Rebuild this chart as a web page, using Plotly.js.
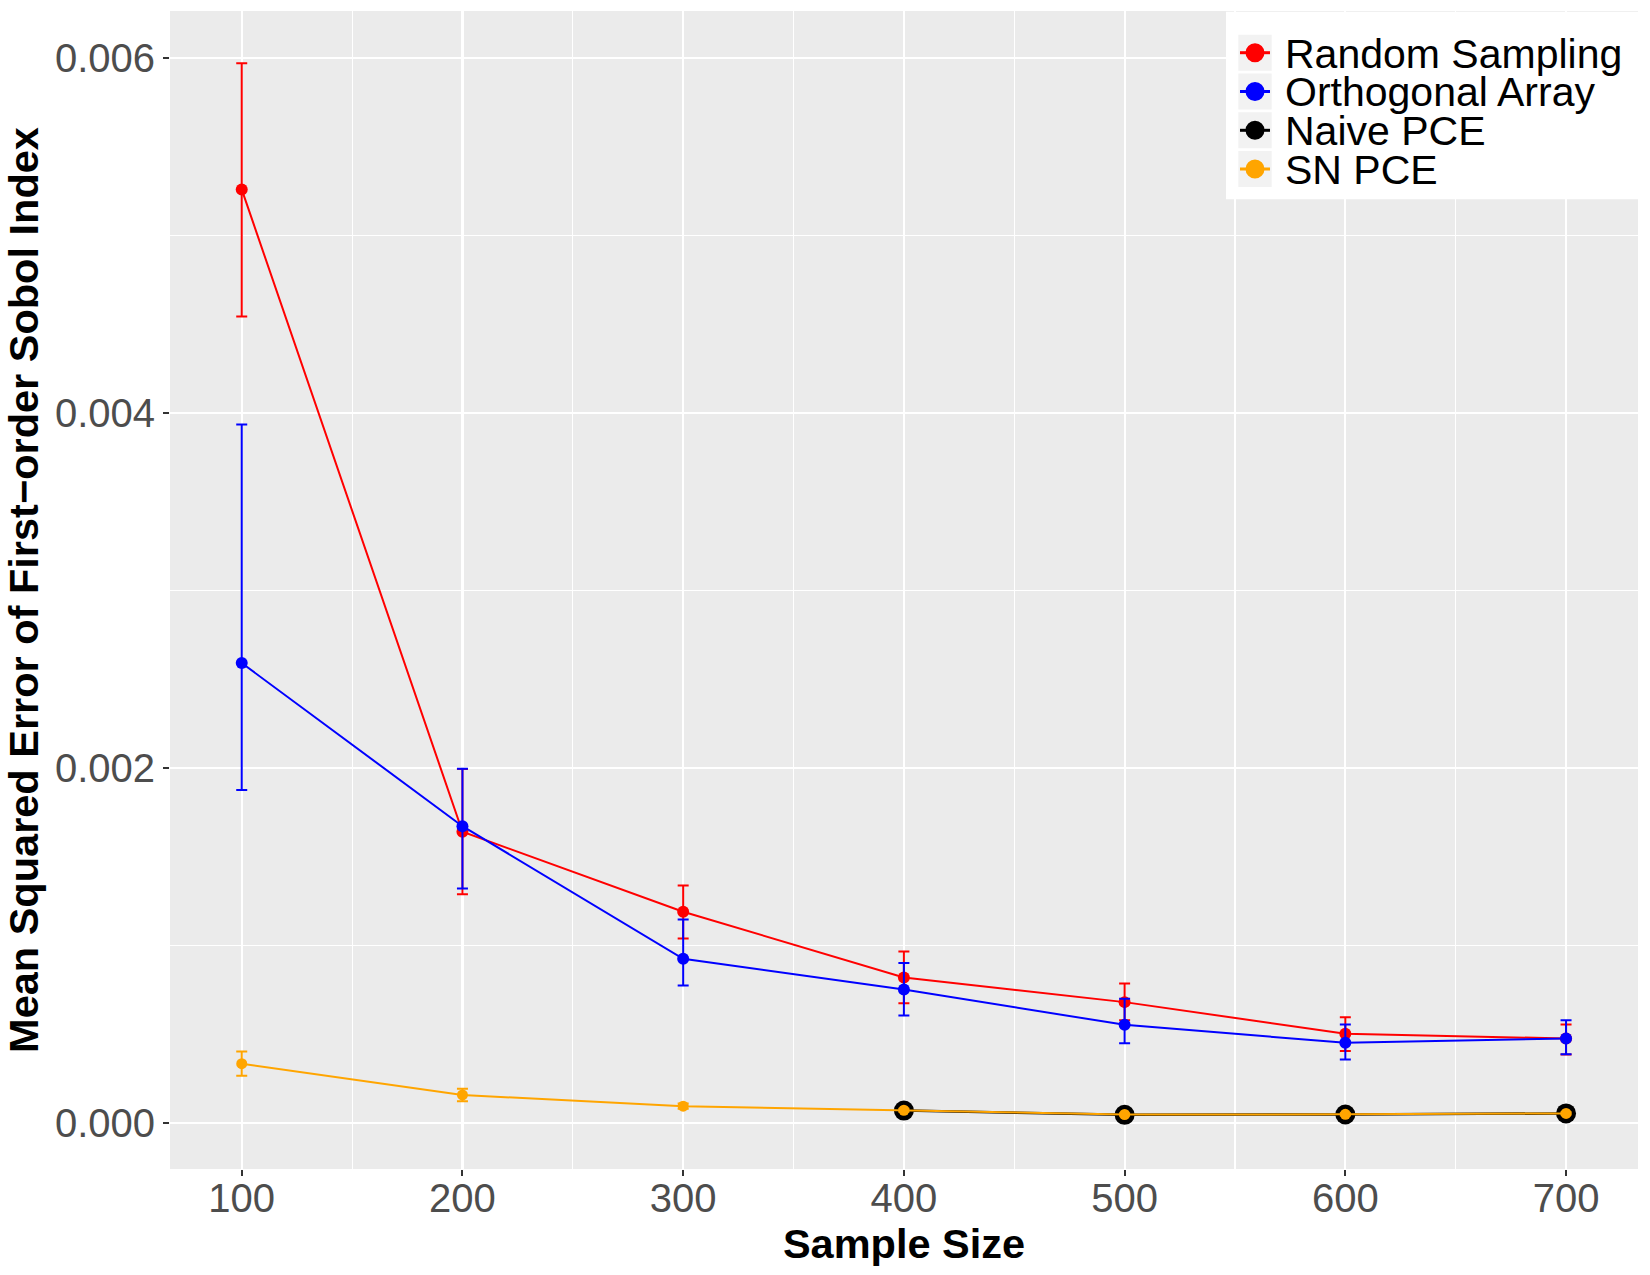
<!DOCTYPE html>
<html>
<head>
<meta charset="utf-8">
<script src="https://cdn.plot.ly/plotly-3.0.1.min.js"></script>
<style>
  html, body { margin: 0; padding: 0; background: #ffffff; }
  #chart { width: 1650px; height: 1275px; }
</style>
</head>
<body>
<div id="chart"></div>
<script>
// ---------------- data ----------------
const sampleSizes = [100, 200, 300, 400, 500, 600, 700];
const seriesNames = ["Random Sampling", "Orthogonal Array", "Naive PCE", "SN PCE"];
const seriesColors = ["#FF0000", "#0000FF", "#000000", "#FFA500"];

const randomMean  = [0.005261, 0.001643, 0.001192, 0.000822, 0.000683, 0.000505, 0.000478];
const randomUpper = [0.005972, 0.001996, 0.001340, 0.000968, 0.000788, 0.000598, 0.000557];
const randomLower = [0.004545, 0.001290, 0.001042, 0.000677, 0.000581, 0.000407, 0.000388];

const orthoMean  = [0.002593, 0.001674, 0.000927, 0.000754, 0.000555, 0.000454, 0.000478];
const orthoUpper = [0.003937, 0.001998, 0.001149, 0.000903, 0.000702, 0.000557, 0.000581];
const orthoLower = [0.001878, 0.001323, 0.000777, 0.000608, 0.000452, 0.000360, 0.000389];

const naiveSizes = [400, 500, 600, 700];
const naiveMean  = [0.000072, 0.000048, 0.000050, 0.000056];

const snMean  = [0.000336, 0.000160, 0.000097, 0.000074, 0.000050, 0.000051, 0.000056];
const snUpper = [0.000405, 0.000195, 0.000112, 0.000082, 0.000056, 0.000057, 0.000062];
const snLower = [0.000268, 0.000124, 0.000082, 0.000066, 0.000044, 0.000045, 0.000050];

const xTickVals = [100, 200, 300, 400, 500, 600, 700];
const yTickVals = [0, 0.002, 0.004, 0.006];
const yTickText = ["0.000", "0.002", "0.004", "0.006"];

// ---------------- helpers ----------------
const W = 1650, H = 1275;
const M = { l: 170, r: 12, t: 11, b: 106 };
const PW = W - M.l - M.r, PH = H - M.t - M.b;
const px = v => (v - M.l) / PW;          // pixel x -> paper x
const py = v => (M.t + PH - v) / PH;     // pixel y -> paper y
const FONT = "Liberation Sans, Arial, Helvetica, sans-serif";

function errTrace(name, xs, mean, upper, lower, color, size) {
  return {
    type: "scatter", mode: "lines+markers", name: name,
    x: xs, y: mean,
    line: { color: color, width: 2 },
    marker: { color: color, size: size },
    error_y: {
      type: "data", symmetric: false,
      array: upper.map((u, i) => u - mean[i]),
      arrayminus: lower.map((l, i) => mean[i] - l),
      color: color, thickness: 2, width: 5.5
    },
    showlegend: false, hoverinfo: "x+y"
  };
}

const traces = [
  errTrace(seriesNames[0], sampleSizes, randomMean, randomUpper, randomLower, seriesColors[0], 12),
  errTrace(seriesNames[1], sampleSizes, orthoMean, orthoUpper, orthoLower, seriesColors[1], 12),
  {
    type: "scatter", mode: "lines+markers", name: seriesNames[2],
    x: naiveSizes, y: naiveMean,
    line: { color: seriesColors[2], width: 2.5 },
    marker: { color: seriesColors[2], size: 20 },
    showlegend: false
  },
  errTrace(seriesNames[3], sampleSizes, snMean, snUpper, snLower, seriesColors[3], 11)
];

// ---------------- custom legend (ggplot style) ----------------
const shapes = [];
const annotations = [];
shapes.push({ type: "rect", xref: "paper", yref: "paper", layer: "above",
  x0: px(1226), x1: px(1638), y0: py(199.3), y1: py(11.7),
  fillcolor: "#FFFFFF", line: { width: 0 } });
const rowCenters = [52.7, 91.5, 130.3, 169.0];
seriesNames.forEach((nm, i) => {
  const c = rowCenters[i];
  shapes.push({ type: "rect", xref: "paper", yref: "paper", layer: "above",
    x0: px(1238.3), x1: px(1271.7), y0: py(c + 18), y1: py(c - 18),
    fillcolor: "#F2F2F2", line: { width: 0 } });
  shapes.push({ type: "line", xref: "paper", yref: "paper", layer: "above",
    x0: px(1240), x1: px(1270), y0: py(c), y1: py(c),
    line: { color: seriesColors[i], width: 3 } });
  shapes.push({ type: "circle", xref: "paper", yref: "paper", layer: "above",
    x0: px(1245.5), x1: px(1264.5), y0: py(c + 9.5), y1: py(c - 9.5),
    fillcolor: seriesColors[i], line: { width: 0 } });
  annotations.push({ xref: "paper", yref: "paper", x: px(1283), y: py(c + 1),
    xanchor: "left", yanchor: "middle", showarrow: false, text: nm,
    font: { family: FONT, size: 41, color: "#000000" } });
});

const layout = {
  width: W, height: H,
  margin: M,
  paper_bgcolor: "#FFFFFF",
  plot_bgcolor: "#EBEBEB",
  font: { family: FONT, color: "#4D4D4D" },
  showlegend: false,
  xaxis: {
    range: [67.5, 732.6],
    tickvals: xTickVals,
    ticktext: xTickVals.map(String),
    tickfont: { size: 40, color: "#4D4D4D" },
    ticks: "outside", ticklen: 6, tickwidth: 2, tickcolor: "#333333",
    ticklabelstandoff: -12,
    showgrid: true, gridcolor: "#FFFFFF", gridwidth: 2.2,
    minor: { dtick: 50, tick0: 50, showgrid: true, gridcolor: "#FFFFFF", gridwidth: 1.1 },
    zeroline: false, showline: false,
    title: { text: "Sample Size", standoff: 6,
      font: { size: 41.5, color: "#000000", weight: "bold" } }
  },
  yaxis: {
    range: [-0.000257, 0.006266],
    tickvals: yTickVals,
    ticktext: yTickText,
    tickfont: { size: 40, color: "#4D4D4D" },
    ticks: "outside", ticklen: 6, tickwidth: 2, tickcolor: "#333333",
    showgrid: true, gridcolor: "#FFFFFF", gridwidth: 2.2,
    minor: { dtick: 0.001, tick0: 0, showgrid: true, gridcolor: "#FFFFFF", gridwidth: 1.1 },
    zeroline: false, showline: false,
    title: { text: "Mean Squared Error of First\u2212order Sobol Index", standoff: 4,
      font: { size: 41.5, color: "#000000", weight: "bold" } }
  },
  shapes: shapes,
  annotations: annotations
};

Plotly.newPlot("chart", traces, layout, { displayModeBar: false, staticPlot: true });
</script>
</body>
</html>
